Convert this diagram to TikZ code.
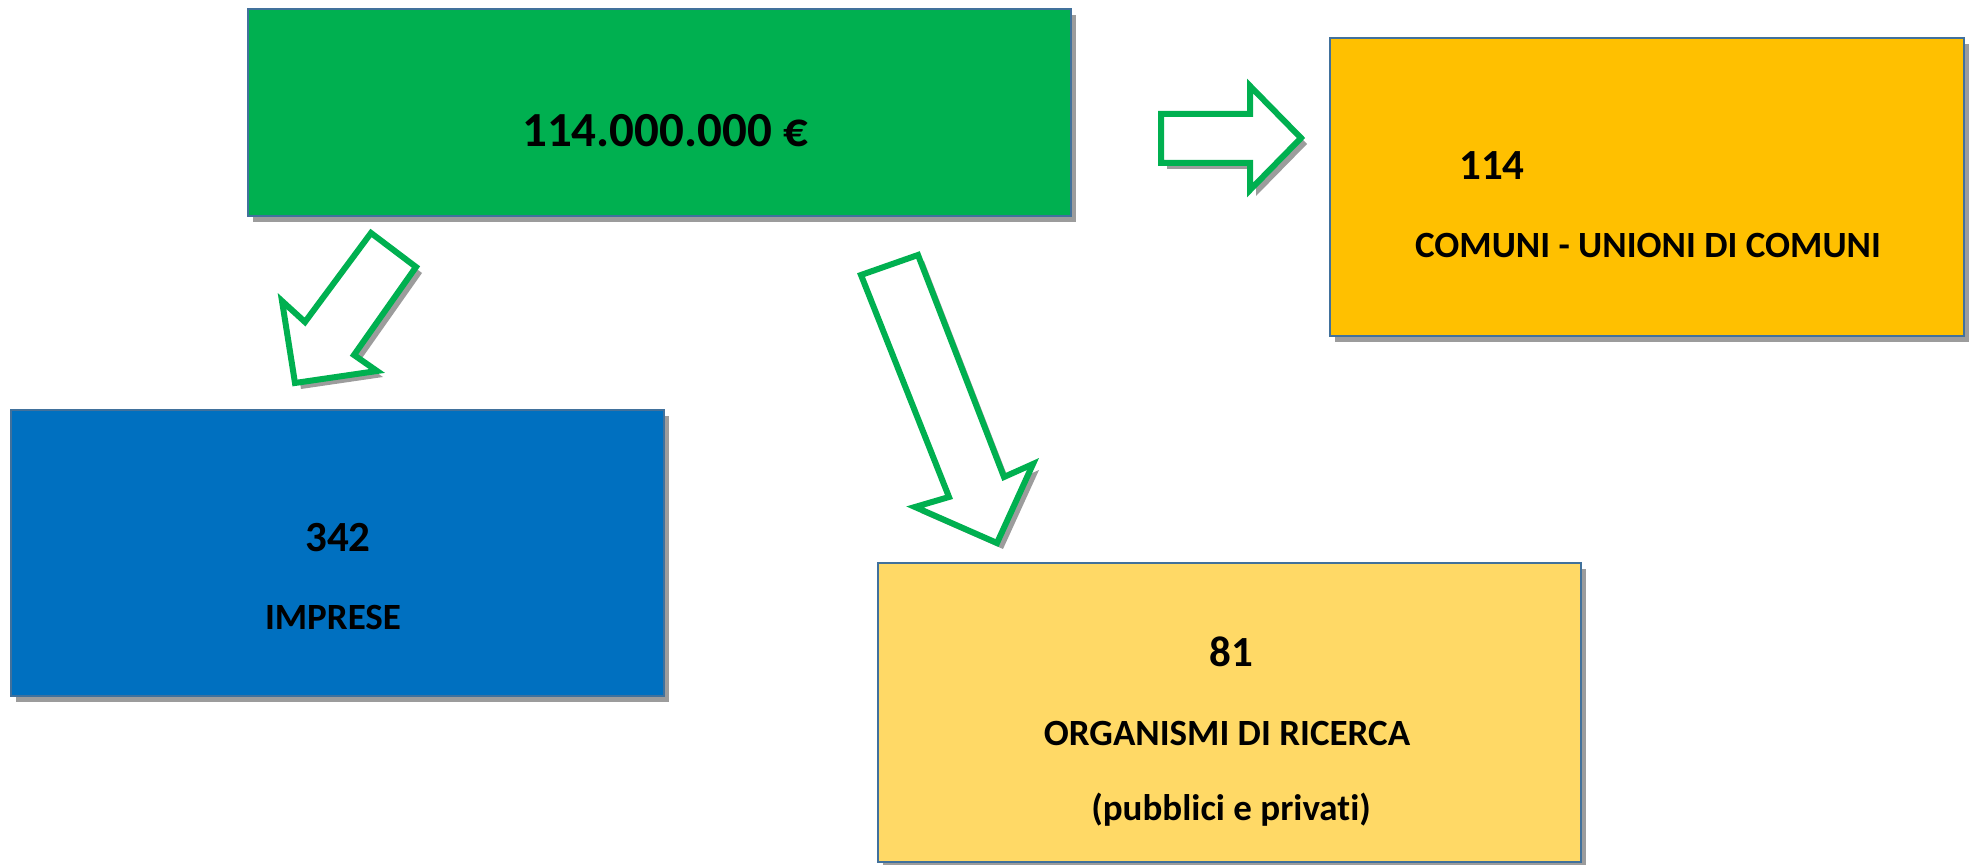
\documentclass[tikz,border=0pt]{standalone}
\usepackage{fontspec}
\setmainfont{Carlito}[Ligatures=NoCommon]
\usetikzlibrary{shadows,fit}
\definecolor{boxgreen}{HTML}{00B050}
\definecolor{boxorange}{HTML}{FFC000}
\definecolor{boxblue}{HTML}{0070C0}
\definecolor{boxyellow}{HTML}{FFD966}
\definecolor{boxline}{HTML}{41719C}
\definecolor{shadowgray}{HTML}{9C9C9C}

\begin{document}
\begin{tikzpicture}[x=0.5pt, y=-0.5pt,
        box/.style={draw=boxline, line width=1pt, inner sep=0pt,
            drop shadow={shadow xshift=2.5pt, shadow yshift=-3pt, opacity=1, fill=shadowgray}},
        fatarrow/.style={draw=boxgreen, fill=white, line width=3pt, line join=miter,
            drop shadow={shadow xshift=3pt, shadow yshift=-3pt, opacity=1, fill=shadowgray}},
        big/.style={font=\fontsize{24.5}{28}\selectfont\bfseries, anchor=base},
        num/.style={font=\fontsize{21.5}{25}\selectfont\bfseries, anchor=base},
        txt/.style={font=\fontsize{18.5}{22}\selectfont\bfseries, anchor=base}]
        \useasboundingbox (0,0) rectangle (1976,865);

        % boxes
        \node [box, fill=boxgreen, fit={(248,9) (1071,216)}] (total) {};
        \node [box, fill=boxorange, fit={(1330,38) (1964,336)}] (comuni) {};
        \node [box, fill=boxblue, fit={(11,410) (664,696)}] (imprese) {};
        \node [box, fill=boxyellow, fit={(878,563) (1581,862)}] (ricerca) {};

        % labels
        \node [big] (totnum) at (665,147) {114.000.000 €};
        \node [num] (comnum) at (1492,180) {114};
        \node [txt] (comtxt) at (1648,258) {COMUNI - UNIONI DI COMUNI};
        \node [num] (impnum) at (338,552) {342};
        \node [txt] (imptxt) at (333,630) {IMPRESE};
        \node [num] (ricnum) at (1231,667) {81};
        \node [txt] (rictxt) at (1227,745) {ORGANISMI DI RICERCA};
        \node [txt] (ricsub) at (1231,820) {(pubblici e privati)};

        % block arrows
        \draw [fatarrow] (1161,114) -- (1250,114) -- (1250,86) -- (1301,138)
            -- (1250,190) -- (1250,163) -- (1161,163) -- cycle;
        \draw [fatarrow] (371,233) -- (416,267) -- (354,355) -- (377,371)
            -- (295,383) -- (282,301) -- (305,322) -- cycle;
        \draw [fatarrow] (861,275) -- (918,255) -- (1004,477) -- (1033,464)
            -- (997,543) -- (915,507) -- (949,497) -- cycle;
    \end{tikzpicture}
\end{document}
